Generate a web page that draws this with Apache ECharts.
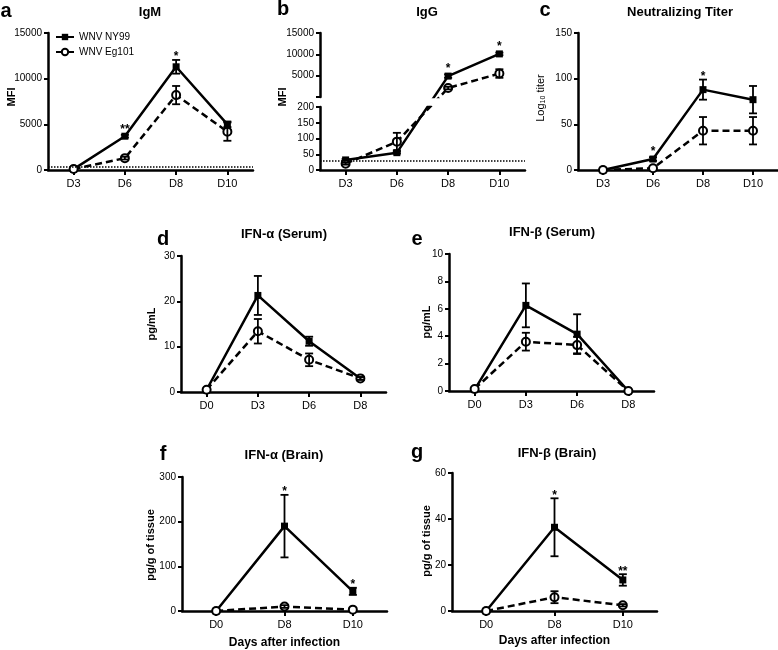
<!DOCTYPE html>
<html><head><meta charset="utf-8">
<script src="https://cdn.jsdelivr.net/npm/echarts@6/dist/echarts.min.js"></script>
<style>html,body{margin:0;padding:0;background:#fff}#c{width:778px;height:650px}</style>
</head><body><div id="c"></div>
<script>
// ---------------- DATA ----------------
const seriesNames = ['WNV NY99', 'WNV Eg101'];

const daysAntibody = ['D3', 'D6', 'D8', 'D10'];
const igmNY99 = [100, 3700, 11300, 5000];
const igmNY99Err = [0, 150, 750, 300];
const igmEg101 = [100, 1300, 8200, 4200];
const igmEg101Err = [0, 150, 1000, 1000];
const igmSig = ['', '**', '*', ''];
const igmCutoff = 400;
const igmTicks = [0, 15000, 5000];

const iggNY99 = [32, 55, 4900, 10100];
const iggNY99Err = [3, 3, 400, 300];
const iggEg101 = [20, 90, 2100, 5500];
const iggEg101Err = [3, 28, 300, 1000];
const iggSig = ['', '', '*', '*'];
const iggCutoff = 28;
const iggLowerTicks = [0, 200, 50];
const iggUpperTicks = [0, 15000, 5000];

const titerNY99 = [0, 12, 88, 77];
const titerNY99Err = [0, 2, 11, 15];
const titerEg101 = [0, 2, 43, 43];
const titerEg101Err = [0, 0, 15, 15];
const titerSig = ['', '*', '*', ''];
const titerTicks = [0, 150, 50];

const daysSerum = ['D0', 'D3', 'D6', 'D8'];
const ifnaSerumNY99 = [0.5, 21.3, 11.2, 3];
const ifnaSerumNY99Err = [0, 4.3, 1, 0.3];
const ifnaSerumEg101 = [0.5, 13.4, 7.1, 3];
const ifnaSerumEg101Err = [0, 2.7, 1.4, 0.3];
const ifnaSerumTicks = [0, 30, 10];

const ifnbSerumNY99 = [0.1, 6.25, 4.15, 0];
const ifnbSerumNY99Err = [0, 1.6, 1.45, 0];
const ifnbSerumEg101 = [0.15, 3.6, 3.35, 0];
const ifnbSerumEg101Err = [0, 0.65, 0.6, 0];
const ifnbSerumTicks = [0, 10, 2];

const daysBrain = ['D0', 'D8', 'D10'];
const ifnaBrainNY99 = [0, 190, 44];
const ifnaBrainNY99Err = [0, 70, 8];
const ifnaBrainEg101 = [0, 10, 3];
const ifnaBrainEg101Err = [0, 3, 1];
const ifnaBrainSig = ['', '*', '*'];
const ifnaBrainTicks = [0, 300, 100];

const ifnbBrainNY99 = [0, 36.4, 13.5];
const ifnbBrainNY99Err = [0, 12.6, 2.5];
const ifnbBrainEg101 = [0, 6, 2.5];
const ifnbBrainEg101Err = [0, 2.6, 0.5];
const ifnbBrainSig = ['', '*', '**'];
const ifnbBrainTicks = [0, 60, 20];

// ---------------- STYLE / LAYOUT ----------------
const FONT = '"Liberation Sans", Arial, Helvetica, sans-serif';
const grids = [], xAxes = [], yAxes = [], series = [], graphics = [];

function xAxisCfg(gi, cats, show, name, nameGap) {
  return {
    type: 'category', gridIndex: gi, data: cats, show: show, boundaryGap: true,
    axisLine: { show: true, onZero: false, lineStyle: { color: '#000', width: 2.5 } },
    axisTick: { show: true, alignWithLabel: true, length: 5, lineStyle: { color: '#000', width: 2 } },
    axisLabel: { color: '#000', fontSize: 11, margin: 8, fontFamily: FONT },
    splitLine: { show: false },
    name: name || '', nameLocation: 'middle', nameGap: nameGap || 25,
    nameTextStyle: { color: '#000', fontSize: 12, fontWeight: 'bold', fontFamily: FONT }
  };
}
function yAxisCfg(gi, ticks, hideZero) {
  return {
    type: 'value', gridIndex: gi, min: ticks[0], max: ticks[1], interval: ticks[2],
    axisLine: { show: true, lineStyle: { color: '#000', width: 2.5 } },
    axisTick: { show: true, length: 4, lineStyle: { color: '#000', width: 2 } },
    axisLabel: { color: '#000', fontSize: 10, margin: 6, fontFamily: FONT,
      formatter: v => (hideZero && v === 0) ? '' : String(v) },
    splitLine: { show: false }
  };
}
function lineSeries(name, xi, yi, data, solid) {
  return {
    type: 'line', name: name, xAxisIndex: xi, yAxisIndex: yi, data: data, clip: true,
    symbol: solid ? 'rect' : 'circle', symbolSize: solid ? 7 : 8, showAllSymbol: true,
    lineStyle: { color: '#000', width: 2.5, type: solid ? 'solid' : [7, 4] },
    itemStyle: { color: solid ? '#000' : '#fff', borderColor: '#000', borderWidth: solid ? 0 : 2 },
    z: solid ? 3 : 4, silent: true, emphasis: { disabled: true }
  };
}
// data rows: [index, value, low, high]; sig is looked up by original index
function errSeries(xi, yi, rows, sig) {
  return {
    type: 'custom', xAxisIndex: xi, yAxisIndex: yi, data: rows, z: 5, silent: true,
    renderItem: function (params, api) {
      const idx = api.value(0);
      const p = api.coord([idx, api.value(1)]);
      const lo = api.coord([idx, api.value(2)]);
      const hi = api.coord([idx, api.value(3)]);
      const ch = [];
      const cap = 4;
      if (Math.abs(hi[1] - lo[1]) > 1) {
        const st = { stroke: '#000', lineWidth: 1.8 };
        ch.push({ type: 'line', shape: { x1: lo[0], y1: lo[1], x2: hi[0], y2: hi[1] }, style: st });
        ch.push({ type: 'line', shape: { x1: hi[0] - cap, y1: hi[1], x2: hi[0] + cap, y2: hi[1] }, style: st });
        ch.push({ type: 'line', shape: { x1: lo[0] - cap, y1: lo[1], x2: lo[0] + cap, y2: lo[1] }, style: st });
      }
      const s = sig ? sig[idx] : '';
      if (s) {
        const top = Math.min(hi[1], p[1] - 4);
        ch.push({ type: 'text', x: hi[0], y: top - 3,
          style: { text: s, fill: '#000', font: 'bold 12px ' + FONT, textAlign: 'center', textVerticalAlign: 'middle' } });
      }
      return { type: 'group', children: ch };
    }
  };
}
function rows(vals, errs, tf) {
  tf = tf || (v => v);
  return vals.map((v, i) => [i, tf(v), tf(v - errs[i]), tf(v + errs[i])]);
}
function gtext(text, x, y, font, rot, align) {
  graphics.push({ type: 'text', x: x, y: y, rotation: rot || 0, silent: true,
    style: { text: text, font: font, fill: '#000', textAlign: align || 'center', textVerticalAlign: 'middle' } });
}

// standard panels
const panels = [
  { grid: { left: 48, top: 33, width: 205, height: 137 }, cats: daysAntibody, ticks: igmTicks,
    ny: igmNY99, nyE: igmNY99Err, eg: igmEg101, egE: igmEg101Err, sig: igmSig, cutoff: igmCutoff },
  { grid: { left: 578, top: 33, width: 205, height: 137 }, cats: daysAntibody, ticks: titerTicks,
    ny: titerNY99, nyE: titerNY99Err, eg: titerEg101, egE: titerEg101Err, sig: titerSig },
  { grid: { left: 181, top: 256, width: 205, height: 136 }, cats: daysSerum, ticks: ifnaSerumTicks,
    ny: ifnaSerumNY99, nyE: ifnaSerumNY99Err, eg: ifnaSerumEg101, egE: ifnaSerumEg101Err },
  { grid: { left: 449, top: 254, width: 205, height: 137 }, cats: daysSerum, ticks: ifnbSerumTicks,
    ny: ifnbSerumNY99, nyE: ifnbSerumNY99Err, eg: ifnbSerumEg101, egE: ifnbSerumEg101Err },
  { grid: { left: 182, top: 477, width: 205, height: 136 }, cats: daysBrain, ticks: ifnaBrainTicks,
    ny: ifnaBrainNY99, nyE: ifnaBrainNY99Err, eg: ifnaBrainEg101, egE: ifnaBrainEg101Err, sig: ifnaBrainSig,
    xName: 'Days after infection', xNameGap: 26 },
  { grid: { left: 452, top: 473, width: 205, height: 138 }, cats: daysBrain, ticks: ifnbBrainTicks,
    ny: ifnbBrainNY99, nyE: ifnbBrainNY99Err, eg: ifnbBrainEg101, egE: ifnbBrainEg101Err, sig: ifnbBrainSig,
    xName: 'Days after infection', xNameGap: 24 }
];

panels.forEach(p => {
  const gi = grids.length; grids.push(p.grid);
  const xi = xAxes.length; xAxes.push(xAxisCfg(gi, p.cats, true, p.xName, p.xNameGap));
  const yi = yAxes.length; yAxes.push(yAxisCfg(gi, p.ticks));
  const sNY = lineSeries(seriesNames[0], xi, yi, p.ny, true);
  if (p.cutoff !== undefined) {
    sNY.markLine = { silent: true, symbol: 'none', label: { show: false },
      lineStyle: { type: 'dotted', color: '#000', width: 1.5 }, data: [{ yAxis: p.cutoff }] };
  }
  series.push(sNY);
  series.push(lineSeries(seriesNames[1], xi, yi, p.eg, false));
  series.push(errSeries(xi, yi, rows(p.ny, p.nyE), p.sig));
  series.push(errSeries(xi, yi, rows(p.eg, p.egE), null));
});

// ---------------- Panel b : broken y axis ----------------
const bLeft = 320, bWidth = 205, bUpperTop = 33, bUpperH = 64, bGapPx = 10, bLowerH = 63;
const bLowerMax = iggLowerTicks[1];
const unitsPerPx = bLowerMax / bLowerH;
const vUpperStart = bLowerMax + bGapPx * unitsPerPx;
const vUpperEnd = vUpperStart + bUpperH * unitsPerPx;
function toVirtual(v) {
  return v <= bLowerMax ? v : vUpperStart + (v - iggUpperTicks[0]) / (iggUpperTicks[1] - iggUpperTicks[0]) * (vUpperEnd - vUpperStart);
}
// upper grid
const gU = grids.length; grids.push({ left: bLeft, top: bUpperTop, width: bWidth, height: bUpperH });
const xU = xAxes.length; xAxes.push(Object.assign(xAxisCfg(gU, daysAntibody, false), { show: false }));
const yUreal = yAxes.length; yAxes.push(yAxisCfg(gU, iggUpperTicks, true));
const yUvirt = yAxes.length; yAxes.push({ type: 'value', gridIndex: gU, min: vUpperStart, max: vUpperEnd, show: false });
// lower grid
const gL = grids.length; grids.push({ left: bLeft, top: bUpperTop + bUpperH + bGapPx, width: bWidth, height: bLowerH });
const xL = xAxes.length; xAxes.push(xAxisCfg(gL, daysAntibody, true));
const yL = yAxes.length; yAxes.push(yAxisCfg(gL, iggLowerTicks));

const vNY = iggNY99.map(toVirtual), vEG = iggEg101.map(toVirtual);
const lowNY = lineSeries(seriesNames[0], xL, yL, vNY, true);
lowNY.markLine = { silent: true, symbol: 'none', label: { show: false },
  lineStyle: { type: 'dotted', color: '#000', width: 1.5 }, data: [{ yAxis: iggCutoff }] };
series.push(lowNY);
series.push(lineSeries(seriesNames[1], xL, yL, vEG, false));
series.push(lineSeries(seriesNames[0], xU, yUvirt, vNY, true));
series.push(lineSeries(seriesNames[1], xU, yUvirt, vEG, false));
const rNY = rows(iggNY99, iggNY99Err, toVirtual), rEG = rows(iggEg101, iggEg101Err, toVirtual);
series.push(errSeries(xL, yL, rNY.filter(r => iggNY99[r[0]] <= bLowerMax), iggSig));
series.push(errSeries(xL, yL, rEG.filter(r => iggEg101[r[0]] <= bLowerMax), null));
series.push(errSeries(xU, yUvirt, rNY.filter(r => iggNY99[r[0]] > bLowerMax), iggSig));
series.push(errSeries(xU, yUvirt, rEG.filter(r => iggEg101[r[0]] > bLowerMax), null));

// ---------------- Texts ----------------
const letterFont = 'bold 20px ' + FONT;
const titleFont = 'bold 13px ' + FONT;
const yNameFont = 'bold 11px ' + FONT;
gtext('a', 6, 11, letterFont);
gtext('b', 283, 9, letterFont);
gtext('c', 545, 10, letterFont);
gtext('d', 163, 239, letterFont);
gtext('e', 417, 239, letterFont);
gtext('f', 163, 454, letterFont);
gtext('g', 417, 452, letterFont);

gtext('IgM', 150, 12, titleFont);
gtext('IgG', 427, 12, titleFont);
gtext('Neutralizing Titer', 680, 12, titleFont);
gtext('IFN-α (Serum)', 284, 234, titleFont);
gtext('IFN-β (Serum)', 552, 232, titleFont);
gtext('IFN-α (Brain)', 284, 455, titleFont);
gtext('IFN-β (Brain)', 557, 453, titleFont);

const R = Math.PI / 2;
gtext('MFI', 12, 97, yNameFont, R);
gtext('MFI', 283, 97, yNameFont, R);
graphics.push({ type: 'text', x: 541, y: 98, rotation: R, silent: true,
  style: { text: 'Log{s|10} titer', fill: '#000', font: '11px ' + FONT, textAlign: 'center', textVerticalAlign: 'middle',
    rich: { s: { fontSize: 7, fontFamily: FONT, verticalAlign: 'bottom', padding: [5, 0, 0, 0] } } } });
gtext('pg/mL', 152, 324, yNameFont, R);
gtext('pg/mL', 427, 322, yNameFont, R);
gtext('pg/g of tissue', 151, 545, yNameFont, R);
gtext('pg/g of tissue', 427, 541, yNameFont, R);

const option = {
  animation: false,
  backgroundColor: '#fff',
  textStyle: { fontFamily: FONT },
  legend: {
    left: 50, top: 27, orient: 'vertical', itemWidth: 18, itemHeight: 8, itemGap: 5,
    selectedMode: false, data: seriesNames,
    textStyle: { fontSize: 10, color: '#000', fontFamily: FONT }
  },
  grid: grids, xAxis: xAxes, yAxis: yAxes, series: series,
  graphic: { elements: graphics }
};
const chart = echarts.init(document.getElementById('c'), null, { renderer: 'canvas' });
chart.setOption(option);
</script></body></html>
